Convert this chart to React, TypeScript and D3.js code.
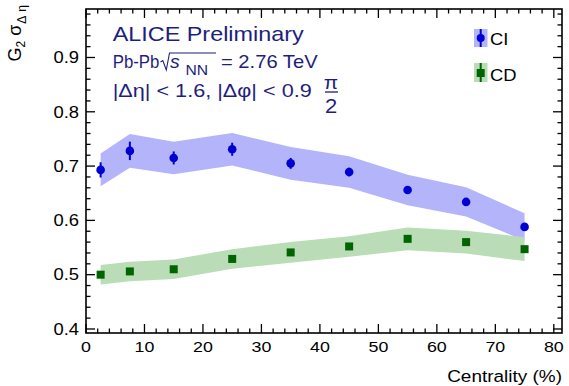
import React from "react";
import * as d3 from "d3";

// ---- data ----
const centrality = [2.5, 7.5, 15, 25, 35, 45, 55, 65, 75];
const ciValues = [0.693, 0.728, 0.715, 0.731, 0.705, 0.689, 0.656, 0.634, 0.588];
const ciStat = [0.014, 0.017, 0.012, 0.012, 0.01, 0.008, 0.006, 0.005, 0.005];
const ciSys = [0.03, 0.031, 0.03, 0.03, 0.03, 0.029, 0.028, 0.027, 0.025];
const cdValues = [0.5, 0.506, 0.51, 0.529, 0.541, 0.552, 0.566, 0.56, 0.547];
const cdStat = [0.004, 0.004, 0.004, 0.004, 0.004, 0.004, 0.004, 0.004, 0.005];
const cdSys = [0.018, 0.018, 0.018, 0.018, 0.019, 0.019, 0.021, 0.021, 0.022];
const xMajorTicks = [0, 10, 20, 30, 40, 50, 60, 70, 80];
const yMajorTicks = [0.4, 0.5, 0.6, 0.7, 0.8, 0.9];
const yTickLabels = ["0.4", "0.5", "0.6", "0.7", "0.8", "0.9"];

const FONT = "'Liberation Sans', Arial, Helvetica, sans-serif";
const SX = 1.15;
const NAVY = "#1e1e7c";
const BLUE = "#0000d0";
const GREEN = "#006400";
const BLUE_BAND = "#b4b4fa";
const GREEN_BAND = "#badcb6";

type TProps = {
  x: number;
  y: number;
  size: number;
  anchor?: "start" | "middle" | "end";
  fill?: string;
  sx?: number;
  italic?: boolean;
  children: React.ReactNode;
};
const T = ({ x, y, size, anchor = "start", fill = "#000", sx = SX, italic, children }: TProps) => (
  <text
    transform={`translate(${x},${y}) scale(${sx},1)`}
    fontSize={size}
    fontFamily={FONT}
    textAnchor={anchor}
    fill={fill}
    fontStyle={italic ? "italic" : "normal"}
  >
    {children}
  </text>
);

export default function App() {
  const L = 86, R = 562, TOP = 9, B = 333;
  const x = d3.scaleLinear().domain([0, 81.4]).range([L, R]);
  const y = d3.scaleLinear().domain([0.3926, 0.9893]).range([B, TOP]);

  const ci = centrality.map((c, i) => ({ c, v: ciValues[i], e: ciStat[i], s: ciSys[i] }));
  const cd = centrality.map((c, i) => ({ c, v: cdValues[i], e: cdStat[i], s: cdSys[i] }));

  const band = d3
    .area<{ c: number; v: number; s: number }>()
    .x((d) => x(d.c))
    .y0((d) => y(d.v - d.s))
    .y1((d) => y(d.v + d.s));

  const xMinor = d3.range(0, 82, 2).filter((v) => v % 10 !== 0);
  const yMinor = d3
    .range(0, 30)
    .map((i) => +(0.4 + i * 0.02).toFixed(2))
    .filter((v) => v < 0.99 && Math.round(v * 100) % 10 !== 0);

  const MAJ = 9, MIN = 4.5;

  return (
    <svg
      width={569}
      height={386}
      style={{ position: "absolute", left: 0, top: 0, background: "#fff" }}
    >
      <rect x={0} y={0} width={569} height={386} fill="#fff" />
      {/* bands */}
      <path d={band(ci) || ""} fill={BLUE_BAND} />
      <path d={band(cd) || ""} fill={GREEN_BAND} />

      {/* CI points */}
      {ci.map((d, i) => (
        <g key={"ci" + i}>
          <line x1={x(d.c)} x2={x(d.c)} y1={y(d.v - d.e)} y2={y(d.v + d.e)} stroke={BLUE} strokeWidth={2} />
          <circle cx={x(d.c)} cy={y(d.v)} r={4.3} fill={BLUE} />
        </g>
      ))}
      {/* CD points */}
      {cd.map((d, i) => (
        <g key={"cd" + i}>
          <line x1={x(d.c)} x2={x(d.c)} y1={y(d.v - d.e)} y2={y(d.v + d.e)} stroke={GREEN} strokeWidth={2} />
          <rect x={x(d.c) - 4} y={y(d.v) - 4} width={8} height={8} fill={GREEN} />
        </g>
      ))}

      {/* frame */}
      <rect x={L} y={TOP} width={R - L} height={B - TOP} fill="none" stroke="#000" strokeWidth={1.6} />

      {/* x ticks */}
      {xMajorTicks.map((t) => (
        <g key={"xm" + t}>
          <line x1={x(t)} x2={x(t)} y1={B} y2={B - MAJ} stroke="#000" strokeWidth={1.3} />
          <line x1={x(t)} x2={x(t)} y1={TOP} y2={TOP + MAJ} stroke="#000" strokeWidth={1.3} />
          <T x={x(t)} y={352} size={15.5} anchor="middle">
            {String(t)}
          </T>
        </g>
      ))}
      {xMinor.map((t) => (
        <g key={"xn" + t}>
          <line x1={x(t)} x2={x(t)} y1={B} y2={B - MIN} stroke="#000" strokeWidth={1.3} />
          <line x1={x(t)} x2={x(t)} y1={TOP} y2={TOP + MIN} stroke="#000" strokeWidth={1.3} />
        </g>
      ))}
      {/* y ticks */}
      {yMajorTicks.map((t, i) => (
        <g key={"ym" + t}>
          <line x1={L} x2={L + MAJ} y1={y(t)} y2={y(t)} stroke="#000" strokeWidth={1.3} />
          <line x1={R} x2={R - MAJ} y1={y(t)} y2={y(t)} stroke="#000" strokeWidth={1.3} />
          <T x={79} y={y(t) + 5.8} size={16} anchor="end">
            {yTickLabels[i]}
          </T>
        </g>
      ))}
      {yMinor.map((t) => (
        <g key={"yn" + t}>
          <line x1={L} x2={L + MIN} y1={y(t)} y2={y(t)} stroke="#000" strokeWidth={1.3} />
          <line x1={R} x2={R - MIN} y1={y(t)} y2={y(t)} stroke="#000" strokeWidth={1.3} />
        </g>
      ))}

      {/* axis titles */}
      <T x={562} y={381.5} size={16.5} anchor="end">
        Centrality (%)
      </T>
      <text
        transform="translate(21,5) rotate(-90)"
        fontSize={18}
        fontFamily={FONT}
        textAnchor="end"
        fill="#000"
      >
        G<tspan fontSize={12} dy={4}>2</tspan>
        <tspan dy={-4} dx={5}>σ</tspan>
        <tspan fontSize={12} dy={5} dx={1}>Δ</tspan>
        <tspan fontSize={12} dx={4}>η</tspan>
      </text>

      {/* annotation */}
      <T x={112.7} y={41} size={20} fill={NAVY} sx={1.17}>
        ALICE Preliminary
      </T>
      <T x={112.7} y={68} size={17.5} fill={NAVY} sx={0.96}>
        Pb-Pb
      </T>
      {/* radical sign with overline */}
      <path
        d="M160.5,62 L162.8,60.5 L166.3,70 L169.5,53 L216,53"
        fill="none"
        stroke={NAVY}
        strokeWidth={1.1}
        strokeLinejoin="miter"
      />
      <T x={170} y={68} size={18} fill={NAVY} italic sx={1.08}>
        s
      </T>
      <T x={185.5} y={75} size={14} fill={NAVY} sx={1.12}>
        NN
      </T>
      <T x={221} y={68} size={18} fill={NAVY} sx={1.12}>
        = 2.76 TeV
      </T>
      <T x={112.7} y={96.7} size={19} fill={NAVY} sx={1.14}>
        |Δη| &lt; 1.6, |Δφ| &lt; 0.9
      </T>
      <T x={331} y={89} size={19} fill={NAVY} anchor="middle" sx={1.1}>
        π
      </T>
      <line x1={325} x2={338} y1={92} y2={92} stroke={NAVY} strokeWidth={1.3} />
      <T x={331} y={113} size={20} fill={NAVY} anchor="middle" sx={1.1}>
        2
      </T>

      {/* legend */}
      <rect x={474} y={29} width={13.5} height={18} fill={BLUE_BAND} />
      <line x1={480.7} x2={480.7} y1={29} y2={47} stroke={BLUE} strokeWidth={2} />
      <circle cx={480.7} cy={38} r={4} fill={BLUE} />
      <T x={490} y={45} size={16}>
        CI
      </T>
      <rect x={474} y={63} width={13.5} height={19} fill={GREEN_BAND} />
      <line x1={480.7} x2={480.7} y1={63} y2={82} stroke={GREEN} strokeWidth={2} />
      <rect x={476.7} y={69} width={8} height={8} fill={GREEN} />
      <T x={490} y={80.5} size={16}>
        CD
      </T>
    </svg>
  );
}
